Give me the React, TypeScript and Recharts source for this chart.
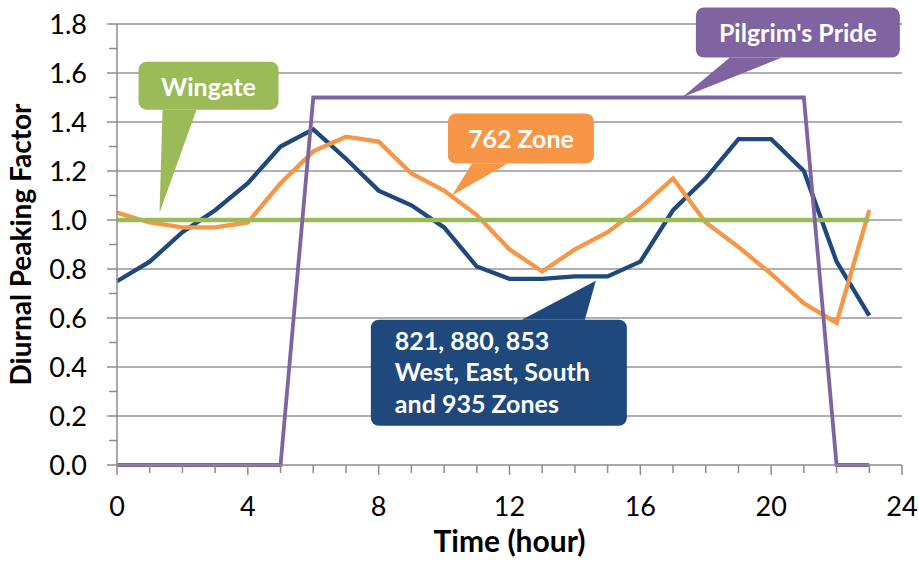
import React from 'react';
import {
  LineChart,
  Line,
  XAxis,
  YAxis,
  CartesianGrid,
  ReferenceDot,
} from 'recharts';

// Hour of day (0–23)
const hours = [0, 1, 2, 3, 4, 5, 6, 7, 8, 9, 10, 11, 12, 13, 14, 15, 16, 17, 18, 19, 20, 21, 22, 23];

// Diurnal peaking factors per zone group
const zonesBlue = [0.75, 0.83, 0.95, 1.04, 1.15, 1.3, 1.37, 1.25, 1.12, 1.06, 0.97, 0.81, 0.76, 0.76, 0.77, 0.77, 0.83, 1.04, 1.17, 1.33, 1.33, 1.2, 0.83, 0.61];
const zone762 = [1.03, 0.99, 0.97, 0.97, 0.99, 1.15, 1.28, 1.34, 1.32, 1.19, 1.12, 1.02, 0.88, 0.79, 0.88, 0.95, 1.05, 1.17, 0.99, 0.89, 0.78, 0.66, 0.58, 1.04];
const pilgrimsPride = [0, 0, 0, 0, 0, 0, 1.5, 1.5, 1.5, 1.5, 1.5, 1.5, 1.5, 1.5, 1.5, 1.5, 1.5, 1.5, 1.5, 1.5, 1.5, 1.5, 0, 0];
const wingate = [1, 1, 1, 1, 1, 1, 1, 1, 1, 1, 1, 1, 1, 1, 1, 1, 1, 1, 1, 1, 1, 1, 1, 1];

// Axis ticks: every hour / every 0.1, labels on the major ones
const xTicks = [0, 1, 2, 3, 4, 5, 6, 7, 8, 9, 10, 11, 12, 13, 14, 15, 16, 17, 18, 19, 20, 21, 22, 23, 24];
const yTicks = [0, 0.1, 0.2, 0.3, 0.4, 0.5, 0.6, 0.7, 0.8, 0.9, 1.0, 1.1, 1.2, 1.3, 1.4, 1.5, 1.6, 1.7, 1.8];
const gridValues = [0.2, 0.4, 0.6, 0.8, 1.0, 1.2, 1.4, 1.6, 1.8];

const data = hours.map((h, i) => ({
  hour: h,
  blue: zonesBlue[i],
  orange: zone762[i],
  purple: pilgrimsPride[i],
  green: wingate[i],
}));

const FONT = 'Lato, "Open Sans", sans-serif';
const AXIS_GREY = '#8c8c8c';
const BLUE = '#1F497D';
const ORANGE = '#F79646';
const PURPLE = '#8064A2';
const GREEN = '#9BBB59';

const XTick = (props: any) => {
  const { x, y, payload } = props;
  const v = payload.value;
  const major = v % 4 === 0;
  return (
    <g>
      <line x1={x} x2={x} y1={y} y2={y + (major ? 10 : 8)} stroke={AXIS_GREY} strokeWidth={1.5} />
      {major && (
        <text x={x} y={y + 51} textAnchor="middle" fontFamily={FONT} fontSize={27} fill="#000">
          {v}
        </text>
      )}
    </g>
  );
};

const YTick = (props: any) => {
  const { x, y, payload } = props;
  const v = payload.value;
  const major = Math.round(v * 10) % 2 === 0;
  return (
    <g>
      <line x1={x - (major ? 10 : 8)} x2={x} y1={y} y2={y} stroke={AXIS_GREY} strokeWidth={1.5} />
      {major && (
        <text x={x - 30} y={y + 10} textAnchor="end" fontFamily={FONT} fontSize={27} fill="#000">
          {v.toFixed(1)}
        </text>
      )}
    </g>
  );
};

type CalloutSpec = {
  color: string;
  box: [number, number, number, number]; // left, top, right, bottom relative to tip
  base: [number, number]; // tail base x range relative to tip
  lines: string[];
  align: 'middle' | 'start';
  textX: number;
  firstBaseline: number;
  lineGap: number;
};

// Rounded-box callout with a wedge pointing at (cx, cy)
const makeCallout = (spec: CalloutSpec) => (props: any) => {
  const { cx, cy } = props;
  const [l, t, r, b] = spec.box;
  const left = cx + l;
  const top = cy + t;
  const right = cx + r;
  const bottom = cy + b;
  const rad = 8;
  const tailFromBottom = b < 0;
  const baseY = tailFromBottom ? bottom : top;
  const tail = `M${cx + spec.base[0]},${baseY} L${cx},${cy} L${cx + spec.base[1]},${baseY} Z`;
  return (
    <g>
      <rect x={left} y={top} width={right - left} height={bottom - top} rx={rad} ry={rad} fill={spec.color} />
      <path d={tail} fill={spec.color} />
      {spec.lines.map((s, i) => (
        <text
          key={i}
          x={cx + spec.textX}
          y={cy + spec.firstBaseline + i * spec.lineGap}
          textAnchor={spec.align}
          fontFamily={FONT}
          fontWeight={700}
          fontSize={25}
          fill="#fff"
        >
          {s}
        </text>
      ))}
    </g>
  );
};

const WingateCallout = makeCallout({
  color: GREEN,
  box: [-21, -151, 119, -103],
  base: [3, 37],
  lines: ['Wingate'],
  align: 'middle',
  textX: 49,
  firstBaseline: -117,
  lineGap: 0,
});

const PilgrimCallout = makeCallout({
  color: PURPLE,
  box: [14, -90, 218, -40],
  base: [48, 100],
  lines: ["Pilgrim's Pride"],
  align: 'middle',
  textX: 116,
  firstBaseline: -56,
  lineGap: 0,
});

const Zone762Callout = makeCallout({
  color: ORANGE,
  box: [-4, -82, 142, -32],
  base: [20, 56],
  lines: ['762 Zone'],
  align: 'middle',
  textX: 69,
  firstBaseline: -48,
  lineGap: 0,
});

const BlueCallout = makeCallout({
  color: BLUE,
  box: [-225, 39, 31, 145],
  base: [-74, -11],
  lines: ['821, 880, 853', 'West, East, South', 'and 935 Zones'],
  align: 'start',
  textX: -201,
  firstBaseline: 69,
  lineGap: 31.5,
});

export default function App() {
  return (
    <div style={{ position: 'absolute', left: 0, top: 0, background: '#fff' }}>
      <LineChart
        width={919}
        height={561}
        data={data}
        margin={{ top: 24, right: 17, bottom: 0, left: 0 }}
      >
        <CartesianGrid
          horizontal={true}
          vertical={false}
          horizontalValues={gridValues}
          stroke="#969696"
          strokeWidth={1.3}
        />
        <XAxis
          dataKey="hour"
          type="number"
          domain={[0, 24]}
          ticks={xTicks}
          interval={0}
          height={96}
          tickSize={0}
          tickMargin={0}
          tickLine={false}
          axisLine={{ stroke: AXIS_GREY, strokeWidth: 1.5 }}
          tick={<XTick />}
          label={{
            value: 'Time (hour)',
            position: 'insideBottom',
            offset: 9,
            style: { fontFamily: FONT, fontSize: 30, fontWeight: 700, fill: '#000' },
          }}
        />
        <YAxis
          type="number"
          domain={[0, 1.8]}
          ticks={yTicks}
          interval={0}
          width={117}
          tickSize={0}
          tickMargin={0}
          tickLine={false}
          axisLine={{ stroke: AXIS_GREY, strokeWidth: 1.5 }}
          tick={<YTick />}
          label={{
            value: 'Diurnal Peaking Factor',
            angle: -90,
            position: 'insideLeft',
            offset: 21,
            style: { fontFamily: FONT, fontSize: 28, fontWeight: 700, fill: '#000', textAnchor: 'middle' },
          }}
        />
        <Line dataKey="blue" stroke={BLUE} strokeWidth={4.3} dot={false} isAnimationActive={false} />
        <Line dataKey="orange" stroke={ORANGE} strokeWidth={4.3} dot={false} isAnimationActive={false} />
        <Line dataKey="green" stroke={GREEN} strokeWidth={4.3} dot={false} isAnimationActive={false} />
        <Line dataKey="purple" stroke={PURPLE} strokeWidth={3.8} dot={false} isAnimationActive={false} />
        <ReferenceDot x={1.3} y={1.03} ifOverflow="visible" shape={WingateCallout} />
        <ReferenceDot x={17.27} y={1.5} ifOverflow="visible" shape={PilgrimCallout} />
        <ReferenceDot x={10.24} y={1.1} ifOverflow="visible" shape={Zone762Callout} />
        <ReferenceDot x={14.64} y={0.752} ifOverflow="visible" shape={BlueCallout} />
      </LineChart>
    </div>
  );
}
